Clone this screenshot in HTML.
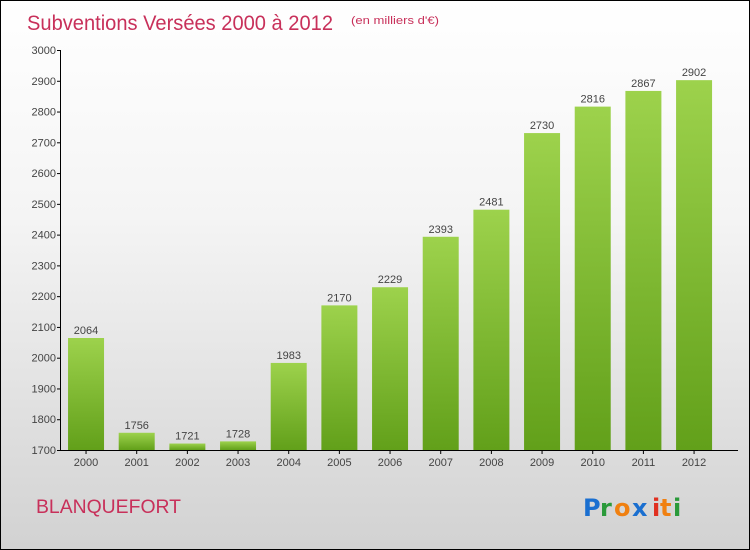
<!DOCTYPE html>
<html><head><meta charset="utf-8"><style>
html,body{margin:0;padding:0}
body{width:750px;height:550px;overflow:hidden;font-family:"Liberation Sans",sans-serif}
#frame{position:absolute;left:0;top:0;width:748px;height:548px;border:1px solid #000;background:linear-gradient(#ffffff 0%,#f4f4f4 40%,#d2d2d2 100%)}
</style></head><body>
<div id="frame">
<svg width="750" height="550" style="position:absolute;left:-1px;top:-1px" id="svg">
<defs><linearGradient id="bg" x1="0" y1="0" x2="0" y2="1"><stop offset="0" stop-color="#9dd24c"/><stop offset="1" stop-color="#62a01a"/></linearGradient></defs>
<text x="27" y="30" font-size="21" fill="#c8305a" textLength="306" lengthAdjust="spacingAndGlyphs">Subventions Versées 2000 à 2012</text>
<text x="351" y="24" font-size="11" fill="#c8305a" textLength="88" lengthAdjust="spacingAndGlyphs">(en milliers d'€)</text>
<text x="36" y="513" font-size="19" fill="#c8305a" textLength="145" lengthAdjust="spacingAndGlyphs">BLANQUEFORT</text>
<g font-size="24" font-family="'DejaVu Sans',sans-serif" font-weight="bold">
<text x="583" y="516" fill="#1a6fd0">P</text><text x="600" y="516" fill="#2a9a3a">r</text><text x="614" y="516" fill="#f08010">o</text><text x="632" y="516" fill="#1a6fd0">x</text><text x="652" y="516" fill="#e03020">i</text><text x="660" y="516" fill="#f08010">t</text><text x="673" y="516" fill="#2a9a3a">i</text>
</g>
<g id="plot"></g>
</svg></div>
<script>
const categories=["2000","2001","2002","2003","2004","2005","2006","2007","2008","2009","2010","2011","2012"];
const values=[2064,1756,1721,1728,1983,2170,2229,2393,2481,2730,2816,2867,2902];
const yTicks=[1700,1800,1900,2000,2100,2200,2300,2400,2500,2600,2700,2800,2900,3000];
const NS="http://www.w3.org/2000/svg";
const g=document.getElementById('plot');
const x0=60.7,x1=719.4,axisEnd=738,yTop=50,yBot=450,vMin=1700,vMax=3000;
const y=v=>yBot-(v-vMin)/(vMax-vMin)*(yBot-yTop);
const step=(x1-x0)/categories.length;
const xc=i=>x0+step*(i+0.5);
function el(t,a){const e=document.createElementNS(NS,t);for(const k in a)e.setAttribute(k,a[k]);g.appendChild(e);return e;}
let ax=el('line',{x1:60.5,y1:yTop,x2:60.5,y2:yBot,stroke:'#000'});


let bx=el('line',{x1:60,y1:yBot+0.5,x2:axisEnd,y2:yBot+0.5,stroke:'#000'});


yTicks.forEach(v=>{
 const t=el('line',{x1:57,y1:y(v)+0.5,x2:61,y2:y(v)+0.5,stroke:'#000'});
 
 
 const l=el('text',{x:56,y:y(v)+4,'font-size':11,'text-anchor':'end',fill:'#444'});
 l.textContent=v;
 
 
});
categories.forEach((c,i)=>{
 const v=values[i];
 const r=el('rect',{x:xc(i)-18,y:y(v),width:36,height:yBot-y(v),fill:'url(#bg)'});
 
 
 const vl=el('text',{x:xc(i),y:y(v)-4,'font-size':11,'text-anchor':'middle',fill:'#444'});
 vl.textContent=v;
 
 
 const t=el('line',{x1:xc(i),y1:yBot,x2:xc(i),y2:yBot+4,stroke:'#000'});
 
 
 const cl=el('text',{x:xc(i),y:yBot+16,'font-size':11,'text-anchor':'middle',fill:'#444'});
 cl.textContent=c;
 
 
});
</script>
</body></html>
